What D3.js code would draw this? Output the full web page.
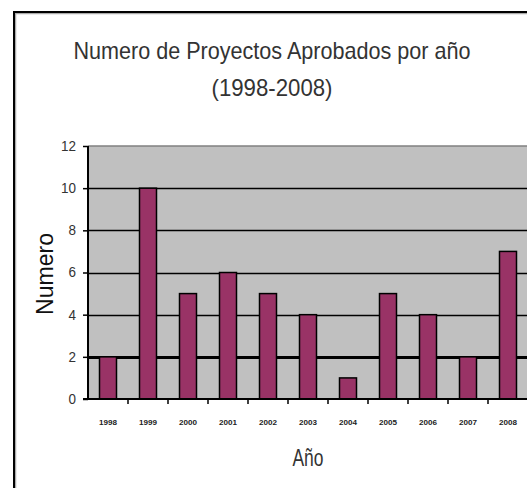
<!DOCTYPE html>
<html>
<head>
<meta charset="utf-8">
<script src="https://cdn.jsdelivr.net/npm/d3@7"></script>
<style>
html,body{margin:0;padding:0;background:#fff;overflow:hidden;}
svg{display:block;font-family:"Liberation Sans",Arial,sans-serif;}
</style>
</head>
<body>
<svg id="chart" width="527" height="488"></svg>
<script>
const categories = ["1998","1999","2000","2001","2002","2003","2004","2005","2006","2007","2008"];
const values = [2, 10, 5, 6, 5, 4, 1, 5, 4, 2, 7];
const yTicks = [0, 2, 4, 6, 8, 10, 12];
const titleLines = ["Numero de Proyectos Aprobados por año", "(1998-2008)"];
const xTitle = "Año";
const yTitle = "Numero";

const svg = d3.select("#chart");
const plot = {left: 88, right: 528, top: 146, bottom: 399};

// outer chart border
svg.append("rect").attr("x", 15.5).attr("y", 13.5).attr("width", 600).attr("height", 600)
  .attr("fill", "none").attr("stroke", "#aaa").attr("stroke-width", 1.5);
svg.append("rect").attr("x", 14).attr("y", 12).attr("width", 600).attr("height", 600)
  .attr("fill", "none").attr("stroke", "#000").attr("stroke-width", 2);

const x = d3.scaleBand().domain(categories).range([plot.left, plot.right])
  .paddingInner(0.575).paddingOuter(0.2875);
const y = d3.scaleLinear().domain([0, 12]).range([plot.bottom, plot.top]);

// plot background
svg.append("rect").attr("x", plot.left).attr("y", plot.top)
  .attr("width", plot.right - plot.left).attr("height", plot.bottom - plot.top)
  .attr("fill", "#c0c0c0");
svg.append("line").attr("x1", plot.left).attr("x2", plot.right)
  .attr("y1", plot.top).attr("y2", plot.top).attr("stroke", "#808080").attr("stroke-width", 1.5);

// gridlines
svg.append("g").selectAll("line").data(yTicks.filter(d => d > 0 && d < 12)).join("line")
  .attr("x1", plot.left).attr("x2", plot.right)
  .attr("y1", d => Math.round(y(d)) + 0.5).attr("y2", d => Math.round(y(d)) + 0.5)
  .attr("stroke", "#000").attr("stroke-width", d => d === 2 ? 3 : 1.5);

// bars
svg.append("g").selectAll("rect").data(values).join("rect")
  .attr("x", (d, i) => x(categories[i]))
  .attr("y", d => y(d))
  .attr("width", x.bandwidth())
  .attr("height", d => y(0) - y(d))
  .attr("fill", "#993366").attr("stroke", "#000").attr("stroke-width", 1.5);

// y axis
const yAxis = svg.append("g").attr("transform", `translate(${plot.left},0)`)
  .call(d3.axisLeft(y).tickValues(yTicks).tickSize(5).tickPadding(7).tickFormat(d3.format("d")));
yAxis.select(".domain").attr("stroke", "#000").attr("stroke-width", 2).attr("d", `M0,${plot.top}V${plot.bottom}`);
yAxis.selectAll(".tick line").attr("stroke", "#000").attr("stroke-width", 1.5);
yAxis.selectAll(".tick text").attr("font-size", 14).attr("fill", "#333")
  .attr("font-family", "Liberation Sans, Arial, sans-serif")
  .attr("textLength", d => String(d).length * 7.5).attr("lengthAdjust", "spacingAndGlyphs");

// x axis
const xAxis = svg.append("g").attr("transform", `translate(0,${plot.bottom})`)
  .call(d3.axisBottom(x).tickSize(0).tickPadding(20));
xAxis.select(".domain").attr("stroke", "#000").attr("stroke-width", 2)
  .attr("d", `M${plot.left - 5},0H${plot.right}`);
xAxis.selectAll(".tick text").attr("font-size", 8).attr("fill", "#222").attr("font-weight", "bold")
  .attr("font-family", "Liberation Sans, Arial, sans-serif")
  .attr("textLength", 18).attr("lengthAdjust", "spacingAndGlyphs");
// category boundary ticks
svg.append("g").selectAll("line").data(categories.slice(1)).join("line")
  .attr("x1", d => x(d) - x.step() * x.paddingInner() / 2)
  .attr("x2", d => x(d) - x.step() * x.paddingInner() / 2)
  .attr("y1", plot.bottom).attr("y2", plot.bottom + 5)
  .attr("stroke", "#000").attr("stroke-width", 1.5);

// titles
const cx = 272;
svg.append("text").attr("x", cx).attr("y", 59).attr("text-anchor", "middle")
  .attr("font-size", 24).attr("fill", "#333")
  .attr("textLength", 397).attr("lengthAdjust", "spacingAndGlyphs").text(titleLines[0]);
svg.append("text").attr("x", cx).attr("y", 96).attr("text-anchor", "middle")
  .attr("font-size", 24).attr("fill", "#333")
  .attr("textLength", 121).attr("lengthAdjust", "spacingAndGlyphs").text(titleLines[1]);

svg.append("text").attr("x", (plot.left + plot.right) / 2).attr("y", 466).attr("text-anchor", "middle")
  .attr("font-size", 23).attr("fill", "#333")
  .attr("textLength", 31).attr("lengthAdjust", "spacingAndGlyphs").text(xTitle);

svg.append("text").attr("transform", "translate(53,274) rotate(-90)").attr("text-anchor", "middle")
  .attr("font-size", 23).attr("fill", "#111")
  .attr("textLength", 82).attr("lengthAdjust", "spacingAndGlyphs").text(yTitle);
</script>
</body>
</html>
